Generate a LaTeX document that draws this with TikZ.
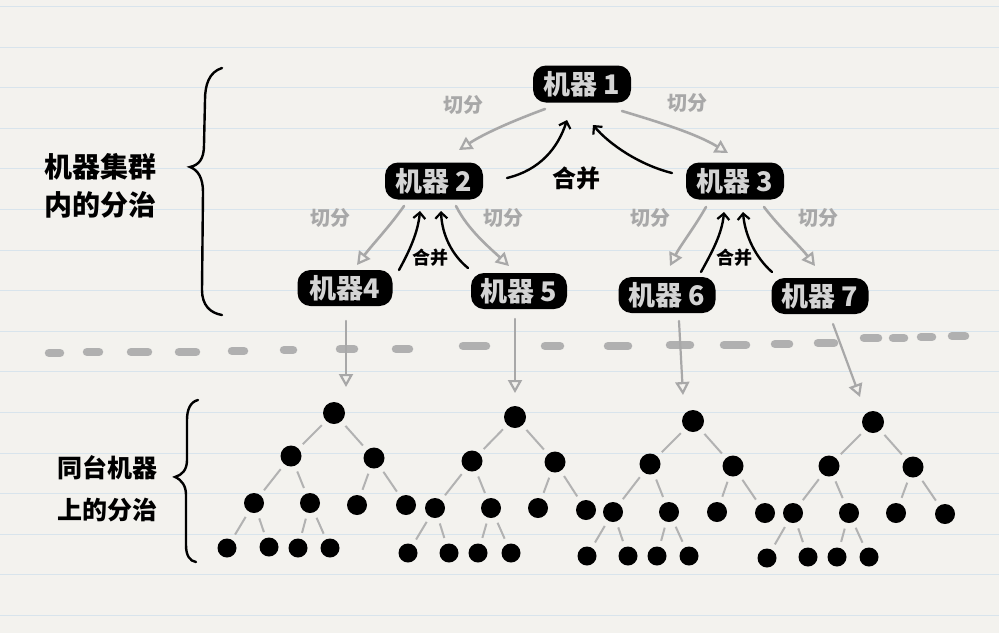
\documentclass[tikz,border=0pt]{standalone}
\usepackage{fontspec}
\newfontfamily\cjk{Noto Sans CJK SC}
\usetikzlibrary{arrows.meta,calc}
\definecolor{paper}{HTML}{F3F2EE}
\definecolor{ruleblue}{HTML}{D8E4EC}
\definecolor{splitgray}{HTML}{A8A8A8}
\definecolor{edgegray}{HTML}{B2B2B2}
\definecolor{dashgray}{HTML}{B0B0B0}
\definecolor{boxtext}{HTML}{D4D4D4}
\tikzset{
  machine/.style={fill=black, rounded corners=13pt, minimum width=98pt, minimum height=37pt,
    inner sep=0pt, text=boxtext, font=\cjk\bfseries\fontsize{27}{27}\selectfont},
  splitlbl/.style={text=splitgray, font=\cjk\bfseries\fontsize{20}{20}\selectfont, inner sep=0pt},
  mergelbl/.style={text=black, font=\cjk\bfseries\fontsize{24}{24}\selectfont, inner sep=0pt},
  smallmerge/.style={text=black, font=\cjk\bfseries\fontsize{18}{18}\selectfont, inner sep=0pt},
  splitarrow/.style={draw=splitgray, line width=2.6pt, line cap=round,
    -{Triangle[open, length=13pt, width=14pt, line width=2.2pt]}},
  mergearrow/.style={draw=black, line width=2.4pt, line cap=round,
    -{Straight Barb[length=6pt, width=12pt, line width=2.2pt]}},
  dotA/.style={circle, fill=black, minimum size=22pt, inner sep=0pt},
  dotB/.style={circle, fill=black, minimum size=21pt, inner sep=0pt},
  dotC/.style={circle, fill=black, minimum size=20pt, inner sep=0pt},
  dotD/.style={circle, fill=black, minimum size=19pt, inner sep=0pt},
  tedge/.style={draw=edgegray, line width=2pt, shorten <=6pt, shorten >=6pt},
  bracestyle/.style={draw=black, line width=2.4pt, line cap=round},
  sidelbl/.style={align=left, anchor=west, inner sep=0pt}
}
\begin{document}
\begin{tikzpicture}[x=1pt,y=-1pt]
\useasboundingbox (0,0) rectangle (999,633);
\fill[paper] (0,0) rectangle (999,633);
% ruled lines
\foreach \k in {0,...,15}{
  \draw[ruleblue, line width=1pt] (0,{6.5+40.6*\k}) -- (999,{6.5+40.6*\k});
}
% separator dashes
\foreach \xa/\xb/\yy in {45/64/353,83/103/352,127/152/352,175/200/352,228/248/351,280/297/350,
  336/358/349,392/413/349,459/490/346,541/564/346,604/632/346,666/694/345,720/750/345,
  771/793/344,814/838/343,860/882/338,889/908/338,917/936/337,948/969/336}{
  \draw[dashgray, line width=8.5pt, line cap=round] (\xa+4,\yy) -- (\xb-4,\yy);
}
% braces
\draw[bracestyle] (222,68) .. controls (209,72) and (205,85) .. (205,100) -- (204,145)
  .. controls (204,159) and (199,165) .. (190,167) .. controls (198,170) and (203,178) .. (203,192)
  -- (202,290) .. controls (202,305) and (210,313) .. (222,315);
\draw[bracestyle] (198,400) .. controls (190,402) and (187,410) .. (187,420) -- (187,460)
  .. controls (187,470) and (182,475) .. (175,477) .. controls (182,480) and (186,486) .. (186,495)
  -- (186,545) .. controls (186,556) and (190,561) .. (196,562);
% side labels
\node[sidelbl, font=\cjk\bfseries\fontsize{28}{38}\selectfont] (lab1) at (44,186) {机器集群\\内的分治};
\node[sidelbl, font=\cjk\bfseries\fontsize{25}{42}\selectfont] (lab2) at (57,489) {同台机器\\上的分治};
% machines
\node[machine] (m1) at (582,84) {机器 1};
\node[machine] (m2) at (434,181) {机器 2};
\node[machine] (m3) at (735,181) {机器 3};
\node[machine, minimum width=95pt, minimum height=36pt] (m4) at (345,288) {机器4};
\node[machine, minimum width=96pt, minimum height=36pt] (m5) at (519,291) {机器 5};
\node[machine, minimum width=97pt, minimum height=36pt] (m6) at (667,295) {机器 6};
\node[machine, minimum width=97pt, minimum height=36pt] (m7) at (820,296) {机器 7};
% split labels
\node[splitlbl] (s1l) at (463,105) {切分};
\node[splitlbl] (s2l) at (687,103) {切分};
\node[splitlbl] (s3l) at (330,218) {切分};
\node[splitlbl] (s4l) at (503,218) {切分};
\node[splitlbl] (s5l) at (650,218) {切分};
\node[splitlbl] (s6l) at (818,218) {切分};
% merge labels
\node[mergelbl] (ml1) at (576,178) {合并};
\node[smallmerge] (ml2) at (430,258) {合并};
\node[smallmerge] (ml3) at (734,258) {合并};
% split arrow end points
\coordinate (p1a) at (545,109); \coordinate (p1b) at (459,150);
\coordinate (p2a) at (622,111); \coordinate (p2b) at (728,153);
\coordinate (p3a) at (404,206); \coordinate (p3b) at (357,265);
\coordinate (p4a) at (456,206); \coordinate (p4b) at (509,266);
\coordinate (p5a) at (706,207); \coordinate (p5b) at (670,266);
\coordinate (p6a) at (764,207); \coordinate (p6b) at (815,266);
\draw[splitarrow] (p1a) .. controls (515,120) and (485,133) .. (p1b);
\draw[splitarrow] (p2a) .. controls (655,121) and (695,133) .. (p2b);
\draw[splitarrow] (p3a) .. controls (390,226) and (372,245) .. (p3b);
\draw[splitarrow] (p4a) .. controls (468,230) and (490,248) .. (p4b);
\draw[splitarrow] (p5a) .. controls (694,228) and (680,246) .. (p5b);
\draw[splitarrow] (p6a) .. controls (780,228) and (800,246) .. (p6b);
% merge arrows
\coordinate (q1a) at (507,178); \coordinate (q1b) at (567,120);
\coordinate (q2a) at (672,173); \coordinate (q2b) at (593,125);
\coordinate (q3a) at (399,270); \coordinate (q3b) at (420,211);
\coordinate (q4a) at (468,268); \coordinate (q4b) at (441,211);
\coordinate (q5a) at (701,272); \coordinate (q5b) at (724,212);
\coordinate (q6a) at (772,272); \coordinate (q6b) at (743,212);
\draw[mergearrow] (q1a) .. controls (540,170) and (558,148) .. (q1b);
\draw[mergearrow] (q2a) .. controls (640,165) and (610,145) .. (q2b);
\draw[mergearrow] (q3a) .. controls (410,250) and (418,232) .. (q3b);
\draw[mergearrow] (q4a) .. controls (452,255) and (442,235) .. (q4b);
\draw[mergearrow] (q5a) .. controls (712,252) and (722,234) .. (q5b);
\draw[mergearrow] (q6a) .. controls (756,258) and (745,236) .. (q6b);
% trees
\foreach \t/\rx/\ry/\ax/\ay/\bx/\by/\cx/\cy/\dx/\dy/\ex/\ey/\fx/\fy/\gx/\gy/\hx/\hy/\ix/\iy/\jx/\jy in {
  1/334/413/291/456/374/458/254/503/310/503/357/505/406/505/227/548/269/547/298/548/330/548,
  2/515/417/472/461/555/462/435/508/491/508/538/508/586/510/408/553/449/553/478/553/511/553,
  3/693/421/650/464/733/466/613/512/669/512/717/512/765/513/587/556/628/556/657/556/689/556,
  4/873/422/829/466/913/467/793/513/849/513/896/513/945/514/767/558/808/557/837/557/869/557}{
  \node[dotA] (r\t) at (\rx,\ry) {};
  \node[dotB] (a\t) at (\ax,\ay) {};
  \node[dotB] (b\t) at (\bx,\by) {};
  \node[dotC] (c\t) at (\cx,\cy) {};
  \node[dotC] (d\t) at (\dx,\dy) {};
  \node[dotC] (e\t) at (\ex,\ey) {};
  \node[dotC] (f\t) at (\fx,\fy) {};
  \node[dotD] (g\t) at (\gx,\gy) {};
  \node[dotD] (h\t) at (\hx,\hy) {};
  \node[dotD] (i\t) at (\ix,\iy) {};
  \node[dotD] (j\t) at (\jx,\jy) {};
  \draw[tedge] (r\t) -- (a\t);
  \draw[tedge] (r\t) -- (b\t);
  \draw[tedge] (a\t) -- (c\t);
  \draw[tedge] (a\t) -- (d\t);
  \draw[tedge] (b\t) -- (e\t);
  \draw[tedge] (b\t) -- (f\t);
  \draw[tedge] (c\t) -- (g\t);
  \draw[tedge] (c\t) -- (h\t);
  \draw[tedge] (d\t) -- (i\t);
  \draw[tedge] (d\t) -- (j\t);
}
% machine to tree arrows
\coordinate (v1a) at (346,321); \coordinate (v1b) at (346,387);
\coordinate (v2a) at (515,319); \coordinate (v2b) at (515,393);
\coordinate (v3a) at (679,321); \coordinate (v3b) at (683,395);
\coordinate (v4a) at (833,324); \coordinate (v4b) at (860,397);
\draw[splitarrow, line width=2.2pt] (v1a) -- (v1b);
\draw[splitarrow, line width=2.2pt] (v2a) -- (v2b);
\draw[splitarrow, line width=2.2pt] (v3a) -- (v3b);
\draw[splitarrow, line width=2.2pt] (v4a) -- (v4b);
\end{tikzpicture}
\end{document}
